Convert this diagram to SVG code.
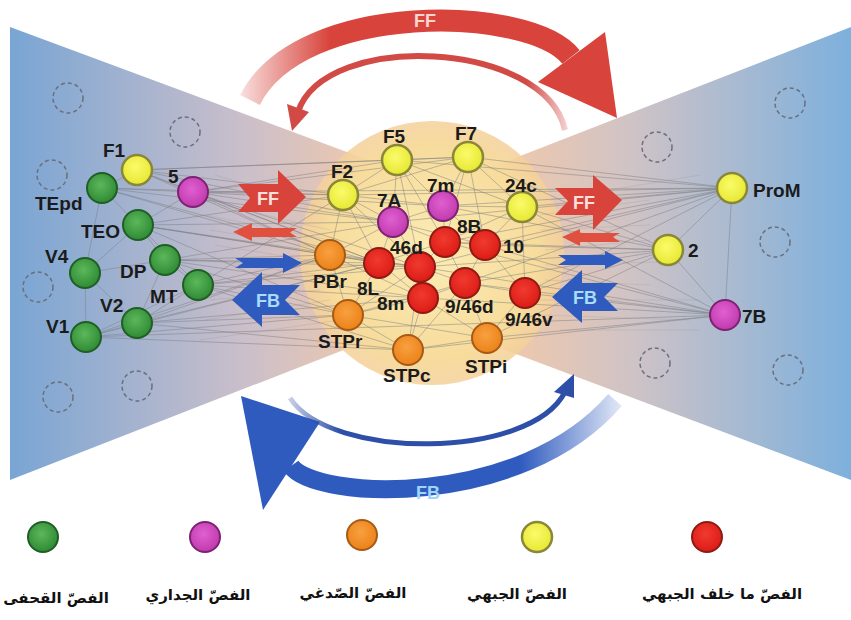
<svg xmlns="http://www.w3.org/2000/svg" width="851" height="620" viewBox="0 0 851 620">
<defs>
<linearGradient id="bow" x1="10" y1="0" x2="851" y2="0" gradientUnits="userSpaceOnUse">
<stop offset="0" stop-color="#79a5d4"/>
<stop offset="0.28" stop-color="#cbbfca"/>
<stop offset="0.44" stop-color="#f2c9aa"/>
<stop offset="0.58" stop-color="#f2c9aa"/>
<stop offset="0.74" stop-color="#cfc3c6"/>
<stop offset="1" stop-color="#7db0dd"/>
</linearGradient>
<radialGradient id="core" cx="0.5" cy="0.5" r="0.5">
<stop offset="0" stop-color="#fcecb4"/>
<stop offset="0.8" stop-color="#f7dc9c"/>
<stop offset="1" stop-color="#f4d09a" stop-opacity="0.85"/>
</radialGradient>
<linearGradient id="redFade" x1="238" y1="0" x2="330" y2="0" gradientUnits="userSpaceOnUse">
<stop offset="0" stop-color="#d8433b" stop-opacity="0.15"/>
<stop offset="1" stop-color="#d8433b"/>
</linearGradient>
<linearGradient id="redThin" x1="280" y1="0" x2="570" y2="0" gradientUnits="userSpaceOnUse">
<stop offset="0" stop-color="#d24a45"/>
<stop offset="0.85" stop-color="#d24a45"/>
<stop offset="1" stop-color="#d24a45" stop-opacity="0.2"/>
</linearGradient>
<linearGradient id="blueFade" x1="520" y1="0" x2="620" y2="0" gradientUnits="userSpaceOnUse">
<stop offset="0" stop-color="#2f5bbf"/>
<stop offset="1" stop-color="#2f5bbf" stop-opacity="0.15"/>
</linearGradient>
<linearGradient id="blueThin" x1="285" y1="0" x2="340" y2="0" gradientUnits="userSpaceOnUse">
<stop offset="0" stop-color="#2d4fa8" stop-opacity="0.2"/>
<stop offset="1" stop-color="#2d4fa8"/>
</linearGradient>
<radialGradient id="gGreen" cx="0.45" cy="0.4" r="0.6"><stop offset="0" stop-color="#5cb85a"/><stop offset="1" stop-color="#2f8a35"/></radialGradient>
<radialGradient id="gYel" cx="0.45" cy="0.4" r="0.6"><stop offset="0" stop-color="#fbfb6a"/><stop offset="1" stop-color="#e6e832"/></radialGradient>
<radialGradient id="gMag" cx="0.45" cy="0.4" r="0.6"><stop offset="0" stop-color="#e060d0"/><stop offset="1" stop-color="#c03aae"/></radialGradient>
<radialGradient id="gOr" cx="0.45" cy="0.4" r="0.6"><stop offset="0" stop-color="#f8a040"/><stop offset="1" stop-color="#ec8218"/></radialGradient>
<radialGradient id="gRed" cx="0.45" cy="0.4" r="0.6"><stop offset="0" stop-color="#f03a30"/><stop offset="1" stop-color="#dc1c16"/></radialGradient>
</defs>
<style>
.lbl{font-family:"Liberation Sans",Arial,sans-serif;font-weight:bold;font-size:19px;fill:#1b1b1b}
.ar{font-family:"DejaVu Sans","Noto Sans",sans-serif;font-weight:bold;font-size:15px;fill:#111;text-anchor:middle}
.grn{fill:url(#gGreen);stroke:#1f5e25;stroke-width:2}
.yel{fill:url(#gYel);stroke:#8a873a;stroke-width:2.5}
.mag{fill:url(#gMag);stroke:#7d2272;stroke-width:2}
.org{fill:url(#gOr);stroke:#a65a18;stroke-width:2}
.red{fill:url(#gRed);stroke:#8e1a14;stroke-width:2}
.dash{fill:none;stroke:#6a6f7c;stroke-width:1.5;stroke-dasharray:4 3}
.ln{fill:none;stroke:#7f7f80;stroke-width:0.9;stroke-opacity:0.55}
.fib{fill:none;stroke:#8a8a8a;stroke-width:0.6;stroke-opacity:0.35}
.wt{font-family:"Liberation Sans",Arial,sans-serif;font-weight:bold;font-size:18px;text-anchor:middle}
</style>
<rect width="851" height="620" fill="#ffffff"/>
<polygon points="10,27 441,187 851,27 851,480 423,319 10,480" fill="url(#bow)"/>
<circle cx="432" cy="253" r="132" fill="url(#core)"/>

<g id="dashed">
<circle class="dash" cx="68" cy="98" r="15"/>
<circle class="dash" cx="185" cy="132" r="15"/>
<circle class="dash" cx="52" cy="175" r="15"/>
<circle class="dash" cx="38" cy="287" r="15"/>
<circle class="dash" cx="58" cy="397" r="15"/>
<circle class="dash" cx="137" cy="386" r="15"/>
<circle class="dash" cx="790" cy="103" r="15"/>
<circle class="dash" cx="657" cy="147" r="15"/>
<circle class="dash" cx="775" cy="242" r="15"/>
<circle class="dash" cx="655" cy="363" r="15"/>
<circle class="dash" cx="788" cy="370" r="15"/>
</g>

<g id="arcs">
<path d="M250 100 C300 0 530 5 571 57" fill="none" stroke="url(#redFade)" stroke-width="22"/>
<polygon points="538,82 605,32 617,118" fill="#d8433b"/>
<text class="wt" x="425" y="27" fill="#fbd6d0">FF</text>
<path d="M565 130 C545 40 325 30 298 112" fill="none" stroke="url(#redThin)" stroke-width="6"/>
<polygon points="287,104 309,112 292,131" fill="#d24a45"/>
<path d="M291 466 C315 500 520 510 615 400" fill="none" stroke="url(#blueFade)" stroke-width="18"/>
<polygon points="241,396 320,422 263,510" fill="#2f5bbf"/>
<text class="wt" x="428" y="499" fill="#9fd6f8" font-size="15">FB</text>
<path d="M290 398 C330 460 530 460 565 392" fill="none" stroke="url(#blueThin)" stroke-width="5"/>
<polygon points="574,374 554,392 574,398" fill="#2d4fa8"/>
</g>

<g id="connectors">
<path class="fib" d="M200 200L330 230M205 215L330 240M210 230L320 248M215 245L320 262M205 260L320 275M210 300L320 290M205 320L330 300M200 340L340 320M215 175L330 210M540 215L650 200M540 230L650 225M545 250L650 240M545 265L660 262M545 280L650 285M540 300L700 300M540 315L690 320M550 200L700 175M560 330L700 330"/>
<path class="ln" d="M137 170L102 188M137 170L193 192M102 188L138 225M138 225L85 273M138 225L165 260M85 273L165 260M85 273L86 337M85 273L137 323M137 323L86 337M137 323L198 285M165 260L198 285M138 225L198 285M86 337L198 285M102 188L85 273M165 260L137 323M102 188L193 192M138 225L193 192"/>
<path class="ln" d="M137 170L343 195M137 170L397 160M137 170L393 222M137 170L330 255M137 170L379 263M137 170L468 157"/>
<path class="ln" d="M193 192L343 195M193 192L397 160M193 192L393 222M193 192L443 206M193 192L330 255M193 192L379 263M193 192L420 267M193 192L468 157M193 192L732 188"/>
<path class="ln" d="M102 188L343 195M102 188L393 222M102 188L330 255M102 188L379 263"/>
<path class="ln" d="M138 225L343 195M138 225L393 222M138 225L330 255M138 225L379 263M138 225L420 267M138 225L348 315"/>
<path class="ln" d="M165 260L330 255M165 260L379 263M165 260L420 267M165 260L393 222M165 260L348 315M165 260L423 298"/>
<path class="ln" d="M198 285L330 255M198 285L379 263M198 285L348 315M198 285L420 267M198 285L423 298M198 285L408 350M198 285L343 195"/>
<path class="ln" d="M137 323L330 255M137 323L348 315M137 323L379 263M137 323L408 350M137 323L423 298"/>
<path class="ln" d="M86 337L348 315M86 337L330 255M86 337L725 315M86 337L408 350M86 337L379 263"/>
<path class="ln" d="M732 188L468 157M732 188L397 160M732 188L522 207M732 188L443 206M732 188L485 245M732 188L445 242M732 188L420 267M732 188L525 293M732 188L668 250M732 188L725 315M732 188L343 195M732 188L393 222M732 188L465 283"/>
<path class="ln" d="M668 250L522 207M668 250L485 245M668 250L445 242M668 250L525 293M668 250L465 283M668 250L443 206M668 250L420 267M668 250L725 315M668 250L468 157M668 250L487 338"/>
<path class="ln" d="M725 315L525 293M725 315L465 283M725 315L487 338M725 315L485 245M725 315L423 298M725 315L408 350M725 315L420 267M725 315L522 207M725 315L445 242"/>
<path class="ln" d="M343 195L397 160M397 160L468 157M343 195L393 222M397 160L393 222M397 160L443 206M468 157L443 206M468 157L522 207M443 206L522 207M393 222L443 206M393 222L379 263M393 222L420 267M393 222L445 242M443 206L445 242M443 206L485 245M522 207L485 245M522 207L525 293M330 255L379 263M330 255L348 315M379 263L420 267M379 263L423 298M379 263L348 315M420 267L445 242M420 267L423 298M420 267L465 283M445 242L485 245M485 245L465 283M485 245L525 293M423 298L465 283M423 298L408 350M423 298L348 315M465 283L525 293M465 283L487 338M525 293L487 338M348 315L408 350M408 350L487 338M343 195L330 255M343 195L379 263M397 160L445 242M468 157L445 242M468 157L485 245M397 160L420 267M393 222L330 255M348 315L420 267M408 350L420 267M487 338L423 298M408 350L465 283M343 195L443 206M397 160L522 207M343 195L468 157M348 315L487 338M330 255L420 267M522 207L445 242M445 242L465 283M348 315L465 283M343 195L420 267M393 222L485 245M379 263L445 242M330 255L423 298"/>
</g>

<g id="arrows-left">
<polygon points="238,184 278,184 278,170 306,197 278,224 278,212 238,212 250,198" fill="#d8433b"/>
<text class="wt" x="268" y="205" fill="#fbe0dc" font-size="17">FF</text>
<polygon points="233,232 252,223 252,228 297,228 290,232.5 297,237 252,237 252,241" fill="#e0503f"/>
<polygon points="235,258 283,258 283,253 302,263 283,273 283,268 235,268 243,263" fill="#2f5bbf"/>
<polygon points="232,300 262,272 262,285 300,285 285,300 300,315 262,315 262,327" fill="#2f5bbf"/>
<text class="wt" x="268" y="307" fill="#a8dcf8" font-size="17">FB</text>
</g>
<g id="arrows-right">
<polygon points="555,188 593,188 593,175 622,200 593,230 593,215 555,215 568,201" fill="#d8433b"/>
<text class="wt" x="584" y="209" fill="#fbe0dc" font-size="17">FF</text>
<polygon points="562,237 580,229 580,233 620,233 613,237 620,242 580,242 580,246" fill="#e0503f"/>
<polygon points="558,255 605,255 605,251 623,260 605,269 605,265 558,265 566,260" fill="#2f5bbf"/>
<polygon points="552,297 582,270 582,283 618,283 604,297 618,311 582,311 582,323" fill="#2f5bbf"/>
<text class="wt" x="585" y="304" fill="#a8dcf8" font-size="17">FB</text>
</g>

<g id="n-F1"><circle class="yel" cx="137" cy="170" r="15"/><text class="lbl" x="103" y="157">F1</text></g>
<g id="n-TEpd"><circle class="grn" cx="102" cy="188" r="15"/><text class="lbl" x="35" y="210">TEpd</text></g>
<g id="n-5"><circle class="mag" cx="193" cy="192" r="15"/><text class="lbl" x="168" y="183">5</text></g>
<g id="n-TEO"><circle class="grn" cx="138" cy="225" r="15"/><text class="lbl" x="81" y="238">TEO</text></g>
<g id="n-V4"><circle class="grn" cx="85" cy="273" r="15"/><text class="lbl" x="45" y="263">V4</text></g>
<g id="n-DP"><circle class="grn" cx="165" cy="260" r="15"/><text class="lbl" x="120" y="278">DP</text></g>
<g id="n-MT"><circle class="grn" cx="198" cy="285" r="15"/><text class="lbl" x="150" y="303">MT</text></g>
<g id="n-V2"><circle class="grn" cx="137" cy="323" r="15"/><text class="lbl" x="100" y="312">V2</text></g>
<g id="n-V1"><circle class="grn" cx="86" cy="337" r="15"/><text class="lbl" x="46" y="333">V1</text></g>
<g id="n-F2"><circle class="yel" cx="343" cy="195" r="15"/><text class="lbl" x="331" y="178">F2</text></g>
<g id="n-F5"><circle class="yel" cx="397" cy="160" r="15"/><text class="lbl" x="383" y="143">F5</text></g>
<g id="n-F7"><circle class="yel" cx="468" cy="157" r="15"/><text class="lbl" x="455" y="140">F7</text></g>
<g id="n-7m"><circle class="mag" cx="443" cy="206" r="15"/><text class="lbl" x="427" y="192">7m</text></g>
<g id="n-7A"><circle class="mag" cx="393" cy="222" r="15"/><text class="lbl" x="377" y="207">7A</text></g>
<g id="n-24c"><circle class="yel" cx="522" cy="207" r="15"/><text class="lbl" x="505" y="192">24c</text></g>
<g id="n-PBr"><circle class="org" cx="330" cy="255" r="15"/><text class="lbl" x="313" y="288">PBr</text></g>
<g id="n-8L"><circle class="red" cx="379" cy="263" r="15"/><text class="lbl" x="357" y="295">8L</text></g>
<g id="n-46d"><circle class="red" cx="420" cy="267" r="15"/><text class="lbl" x="390" y="254">46d</text></g>
<g id="n-8B"><circle class="red" cx="445" cy="242" r="15"/><text class="lbl" x="457" y="233">8B</text></g>
<g id="n-10"><circle class="red" cx="485" cy="245" r="15"/><text class="lbl" x="503" y="253">10</text></g>
<g id="n-8m"><circle class="red" cx="423" cy="298" r="15"/><text class="lbl" x="377" y="310">8m</text></g>
<g id="n-946d"><circle class="red" cx="465" cy="283" r="15"/><text class="lbl" x="445" y="313">9/46d</text></g>
<g id="n-946v"><circle class="red" cx="525" cy="293" r="15"/><text class="lbl" x="505" y="326">9/46v</text></g>
<g id="n-STPr"><circle class="org" cx="348" cy="315" r="15"/><text class="lbl" x="318" y="348">STPr</text></g>
<g id="n-STPc"><circle class="org" cx="408" cy="350" r="15"/><text class="lbl" x="383" y="382">STPc</text></g>
<g id="n-STPi"><circle class="org" cx="487" cy="338" r="15"/><text class="lbl" x="465" y="373">STPi</text></g>
<g id="n-ProM"><circle class="yel" cx="732" cy="188" r="15"/><text class="lbl" x="753" y="197">ProM</text></g>
<g id="n-2"><circle class="yel" cx="668" cy="250" r="15"/><text class="lbl" x="688" y="257">2</text></g>
<g id="n-7B"><circle class="mag" cx="725" cy="315" r="15"/><text class="lbl" x="742" y="323">7B</text></g>

<g id="legend">
<circle class="grn" cx="43" cy="537" r="15"/>
<circle class="mag" cx="205" cy="537" r="15"/>
<circle class="org" cx="362" cy="535" r="15"/>
<circle class="yel" cx="537" cy="537" r="15"/>
<circle class="red" cx="707" cy="537" r="15"/>
<text class="ar" x="56" y="603" font-size="14">الفصّ القحفى</text>
<text class="ar" x="198" y="600">الفصّ الجداري</text>
<text class="ar" x="353" y="598">الفصّ الصّدغي</text>
<text class="ar" x="517" y="599">الفصّ الجبهي</text>
<text class="ar" x="722" y="599" font-size="14">الفصّ ما خلف الجبهي</text>
</g>
</svg>
